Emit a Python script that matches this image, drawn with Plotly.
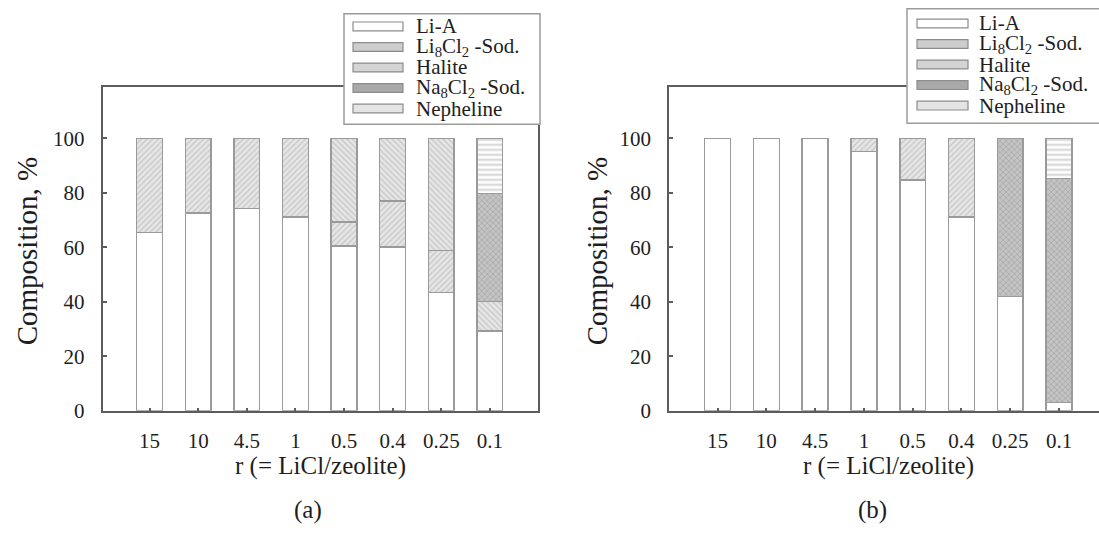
import plotly.graph_objects as go

W, H = 1099, 544

categories = ["15", "10", "4.5", "1", "0.5", "0.4", "0.25", "0.1"]
series_names = ["Li-A", "Li<sub>8</sub>Cl<sub>2</sub> -Sod.", "Halite",
                "Na<sub>8</sub>Cl<sub>2</sub> -Sod.", "Nepheline"]

# panel (a)
a_lia = [65.5, 72.5, 74.2, 71.2, 60.4, 60.1, 43.4, 29.3]
a_li8 = [34.5, 27.5, 25.8, 28.8, 8.8, 16.9, 15.5, None]
a_halite = [None, None, None, None, 30.8, 23.0, 41.1, 10.8]
a_na8 = [None, None, None, None, None, None, None, 39.7]
a_neph = [None, None, None, None, None, None, None, 20.2]

# panel (b)
b_lia = [100, 100, 100, 95.2, 84.6, 71.2, 41.9, 3.0]
b_li8 = [None, None, None, 4.8, 15.4, 28.8, None, None]
b_halite = [None, None, None, None, None, None, None, None]
b_na8 = [None, None, None, None, None, None, 58.1, 82.2]
b_neph = [None, None, None, None, None, None, None, 14.8]

FONT = "Liberation Serif"
TXT = "#1e1e1e"
AX = "#5c5c5c"
EDGE = "#9a9a9a"

styles = [
    dict(color="white", pattern=dict(shape="")),
    dict(color="#e4e4e4", pattern=dict(shape="/", fgcolor="#a4a4a4", bgcolor="#e6e6e6", size=4, solidity=0.3)),
    dict(color="#e4e4e4", pattern=dict(shape="\\", fgcolor="#a4a4a4", bgcolor="#e6e6e6", size=4, solidity=0.3)),
    dict(color="#c0c0c0", pattern=dict(shape="x", fgcolor="#808080", bgcolor="#c4c4c4", size=4, solidity=0.3)),
    dict(color="white", pattern=dict(shape="-", fgcolor="#a8a8a8", bgcolor="white", size=5, solidity=0.4)),
]

fig = go.Figure()
panels = [("x", "y", [a_lia, a_li8, a_halite, a_na8, a_neph]),
          ("x2", "y2", [b_lia, b_li8, b_halite, b_na8, b_neph])]
for xa, ya, data in panels:
    for name, vals, st in zip(series_names, data, styles):
        fig.add_trace(go.Bar(
            x=categories, y=vals, name=name, xaxis=xa, yaxis=ya,
            marker=dict(color=st["color"], pattern=st["pattern"],
                        line=dict(color=EDGE, width=1.5)),
            showlegend=False, hoverinfo="skip"))

def px_x(v):
    return v / W

def px_y(v):
    return 1 - v / H

ydom = [px_y(420), px_y(89.3)]
common_x = dict(type="category", showline=True, linecolor=AX, linewidth=2, ticks="inside",
                ticklen=3, tickwidth=1.5, tickcolor=AX, showgrid=False, zeroline=False,
                tickfont=dict(family=FONT, size=21, color=TXT), ticklabelstandoff=10)
common_y = dict(range=[0, 118.7], tickvals=[0, 20, 40, 60, 80, 100], showline=True,
                linecolor=AX, linewidth=2, ticks="inside", ticklen=4, tickwidth=1.5,
                tickcolor=AX, showgrid=False, zeroline=False,
                tickfont=dict(family=FONT, size=21, color=TXT), ticklabelstandoff=12)

fig.update_layout(
    width=W, height=H, autosize=False,
    margin=dict(l=0, r=0, t=0, b=0, pad=0),
    paper_bgcolor="white", plot_bgcolor="white",
    barmode="stack", bargap=0.47,
    xaxis=dict(domain=[px_x(102.7), px_x(538)], range=[-0.963, 7.99], mirror=True, anchor="y", **common_x),
    yaxis=dict(domain=ydom, mirror=True, anchor="x", **common_y),
    xaxis2=dict(domain=[px_x(669.3), 1.0], range=[-0.99, 7.82], mirror=True, anchor="y2", **common_x),
    yaxis2=dict(domain=ydom, mirror=False, anchor="x2", **common_y),
)

shapes = []
annotations = []

def legend(box, swx, txt_x, rows):
    x0, y0, x1, y1 = box
    shapes.append(dict(type="rect", xref="paper", yref="paper", layer="above",
                       x0=px_x(x0), x1=px_x(x1), y0=px_y(y1), y1=px_y(y0),
                       fillcolor="white", line=dict(color="#9c9c9c", width=1.5)))
    fills = ["white", "#cdcdcd", "#d4d4d4", "#a9a9a9", "#e4e4e4"]
    for name, fc, ry in zip(series_names, fills, rows):
        shapes.append(dict(type="rect", xref="paper", yref="paper", layer="above",
                           x0=px_x(swx[0]), x1=px_x(swx[1]), y0=px_y(ry + 4.5), y1=px_y(ry - 4.5),
                           fillcolor=fc, line=dict(color="#8c8c8c", width=1.2)))
        annotations.append(dict(xref="paper", yref="paper", x=px_x(txt_x), y=px_y(ry),
                                xanchor="left", yanchor="middle", showarrow=False, text=name,
                                font=dict(family=FONT, size=21, color=TXT)))

legend((344, 14, 540, 127), (353, 403), 414, [27, 48, 69, 90, 111])
legend((907, 9, 1115, 126), (917, 968), 977, [24, 45, 66, 87, 108])

for cx in [320, 888]:
    annotations.append(dict(xref="paper", yref="paper", x=px_x(cx), y=px_y(477),
                            xanchor="center", yanchor="middle", showarrow=False,
                            text="r (= LiCl/zeolite)", font=dict(family=FONT, size=25, color=TXT)))
for cx, lab in [(308, "(a)"), (872, "(b)")]:
    annotations.append(dict(xref="paper", yref="paper", x=px_x(cx), y=px_y(521),
                            xanchor="center", yanchor="middle", showarrow=False,
                            text=lab, font=dict(family=FONT, size=25, color=TXT)))
for cx in [27, 597]:
    annotations.append(dict(xref="paper", yref="paper", x=px_x(cx), y=px_y(257),
                            xanchor="center", yanchor="middle", showarrow=False, textangle=-90,
                            text="Composition, %", font=dict(family=FONT, size=29, color=TXT)))

fig.update_layout(shapes=shapes, annotations=annotations)
fig.write_html("out.html")
